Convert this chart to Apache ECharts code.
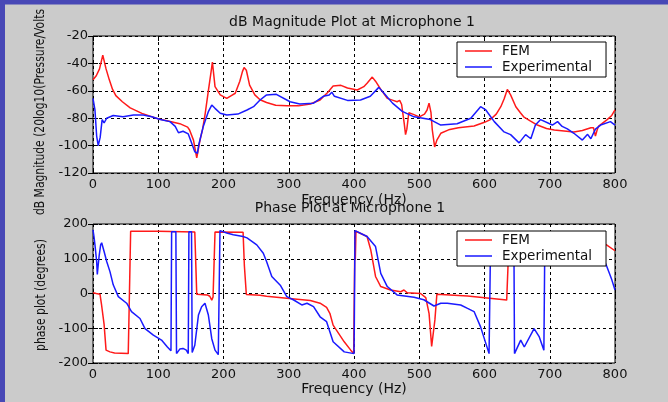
<!DOCTYPE html>
<html>
<head>
<meta charset="utf-8">
<script src="https://cdn.jsdelivr.net/npm/echarts@6/dist/echarts.min.js"></script>
<style>
  html, body { margin: 0; padding: 0; background: #cbcbcb; overflow: hidden; }
  #chart { width: 668px; height: 402px; }
</style>
</head>
<body>
<div id="chart"></div>
<script>
// ---- Magnitude response at microphone 1 (dB) ----
const femMagFreq = [0, 5, 10, 13, 15, 17, 20, 25, 30, 35, 45, 57, 75, 100, 115, 133, 145, 148, 154, 159, 164, 168, 172, 177, 181, 183, 185, 187, 195, 205, 212, 218, 225, 229, 231.5, 235, 240, 248, 256, 266, 280, 297, 315, 333, 348, 360, 368, 380, 390, 405, 415, 420, 428, 433, 441, 451, 460, 466, 470, 473, 477, 479, 481, 484, 490, 500, 508, 512, 515, 518, 520, 523.6, 527, 533, 545, 560, 584, 600, 609, 618, 625, 630, 635, 640, 648, 655, 660, 670, 681, 695, 707, 737, 750, 763, 767, 770, 773, 775, 780, 788, 795, 800];
const femMagDb = [-52, -49, -44, -38, -34, -38, -44, -52, -59, -63.5, -68, -72.5, -76.5, -80.5, -82, -84, -86.5, -88.6, -96, -109, -96, -88, -76.4, -59.4, -46, -39, -48, -57, -63, -65.5, -63.5, -61.8, -53, -46, -43, -45, -55.8, -63, -66.5, -68.5, -70.5, -71, -71, -69.6, -66.7, -61, -56.5, -56, -58, -59.4, -57, -54.5, -50, -53, -59, -65.5, -67, -68, -67, -70, -84, -92, -88, -76, -77, -79, -77, -74, -69, -76, -88.6, -101, -96, -91, -88.5, -87, -85.7, -83, -81, -77, -71.6, -66, -59, -63, -71.6, -76, -79, -82, -85, -87.5, -88.6, -90, -89, -87, -87, -93, -88, -85.7, -84, -81, -78, -74];

const expMagFreq = [0, 3, 5.6, 8, 11, 14, 17, 21, 31, 46, 62, 77, 90, 103, 118, 126, 131, 138, 146, 151, 156, 160, 162, 169, 177, 182, 187, 195, 205, 222, 236, 246, 256, 266, 281, 302, 317, 338, 353, 362, 366, 370, 390, 410, 425, 438, 446, 459, 474, 492, 517, 533, 558, 579, 594, 602, 615, 630, 640, 653, 663, 671, 678, 686, 704, 712, 719, 727, 737, 750, 758, 763, 770, 778, 793, 800];
const expMagDb = [-65.5, -74, -93, -100, -94, -81, -83.5, -80, -78, -79, -77.7, -77.7, -79, -81, -82.5, -86, -90.6, -89.5, -91.5, -98, -104.5, -105.6, -99.6, -86, -75, -70.4, -72.8, -76.4, -77.7, -77, -74, -71.6, -66.7, -63, -62.6, -68, -69.6, -69, -64, -63, -61, -64, -67, -66.7, -64, -57.5, -61.8, -69, -75, -79, -81, -85, -84, -80, -71.6, -74, -82.5, -90, -92, -98, -92, -95, -85, -81, -85, -82.5, -86, -87.8, -91, -96, -91.8, -95, -88, -85, -82.5, -85];

// ---- Phase response at microphone 1 (degrees) ----
const femPhaseFreq = [0, 5, 10.7, 13, 17, 20, 26, 33, 54, 55, 57.7, 60, 100, 156, 159, 175, 179, 182, 184, 187, 230, 232, 235, 256, 266, 297, 333, 348, 358, 363, 368, 385, 395, 399.5, 400, 401.5, 402, 403, 420, 425.6, 433, 441, 456, 471.6, 476.6, 481.6, 502, 510, 515, 519, 521.6, 524, 527, 574, 634, 636, 638, 660, 700, 750, 787, 800];
const femPhaseDeg = [2, 0, -2, -31, -89, -163, -168, -171, -173, -81, 179, 180, 179, 177, -2.5, -4, -8, -19, -10, 177, 176, 80, -3, -5, -8, -14, -20, -28, -40, -57, -91, -139, -163, -173, -86, 179, 97, 179, 164, 126, 49, 20, 10, 5, 10, 2, 0, -12, -57, -152, -152, -76, -2, -7, -19, 77, 175, 170, 162, 152, 140, 123];

const expPhaseFreq = [0, 1.5, 3, 5.6, 6.6, 8, 9.5, 11.7, 13.3, 17, 21, 26, 31, 38.8, 51.6, 59, 72, 79.7, 92.5, 105, 114, 119.5, 120.5, 127, 128, 133, 138, 143, 146, 147, 151, 152, 154, 156, 161.6, 166.5, 171.6, 176.8, 182, 187, 192, 194, 194.6, 205, 215, 230, 236, 251, 261, 266, 274, 287, 297, 307, 320, 328, 338, 348, 358, 368, 385, 400, 400.5, 401.5, 420, 433, 441, 451, 466, 492, 507, 522.6, 533, 543, 563.5, 574, 584, 594, 607, 609.5, 625, 645, 646, 655.5, 661, 676, 684, 691, 692.6, 720, 760, 780, 787, 795, 800];
const expPhaseDeg = [183, 164, 140, 92, 55, 82, 110, 140, 146, 121, 92, 63, 25, -9, -28, -52, -72, -101, -120, -134, -154, -165, 178, 178, -173, -160, -158, -163, -173, 178, 178, -170, -165, -149, -62, -38, -28, -62, -130, -163, -176, -178, 181, 174, 169, 164, 160, 140, 116, 92, 49, 24, -9, -18, -33, -28, -38, -67, -81, -139, -168, -173, -86, 181, 164, 135, 58, 20, -4, -11, -18, -36, -28, -28, -33, -43, -52, -96, -173, 175, 172, 170, -173, -134, -154, -101, -125, -163, 175, 165, 130, 110, 80, 40, 10];

// Axis tick settings
const freqTicks = { min: 0, max: 800, interval: 100 };
const magTicks = { min: -120, max: -20, interval: 20 };
const phaseTicks = { min: -200, max: 200, interval: 100 };

const FONT = '"DejaVu Sans", sans-serif';
const INK = '#111';
const RED = '#ff1a1a';
const BLUE = '#1a1aff';

function pairs(xs, ys) {
  return xs.map((x, i) => [x, ys[i]]);
}

const gridLine = { show: true, lineStyle: { color: '#000', type: [3, 3], width: 1 } };
const tick = { show: true, inside: true, length: 5, lineStyle: { color: '#000', width: 1 } };

function xAxisFor(grid, main, nameGap) {
  return {
    gridIndex: grid, type: 'value', position: main ? 'bottom' : 'top',
    min: freqTicks.min, max: freqTicks.max, interval: freqTicks.interval,
    axisLine: { show: false },
    axisTick: tick,
    axisLabel: { show: main, margin: 5, color: INK, fontSize: 13, fontFamily: FONT, showMinLabel: true, showMaxLabel: true },
    splitLine: main ? gridLine : { show: false },
    name: main ? 'Frequency (Hz)' : '',
    nameLocation: 'middle', nameGap: nameGap,
    nameTextStyle: { color: INK, fontSize: 14, fontFamily: FONT }
  };
}

function yAxisFor(grid, main, t) {
  return {
    gridIndex: grid, type: 'value', position: main ? 'left' : 'right',
    min: t.min, max: t.max, interval: t.interval,
    axisLine: { show: false },
    axisTick: tick,
    axisLabel: { show: main, margin: 5, color: INK, fontSize: 13, fontFamily: FONT, showMinLabel: true, showMaxLabel: true },
    splitLine: main ? gridLine : { show: false }
  };
}

function lineSeries(name, grid, data, color) {
  return {
    type: 'line', name: name, xAxisIndex: grid * 2, yAxisIndex: grid * 2,
    data: data, showSymbol: false, symbol: 'none', clip: true,
    color: color,
    itemStyle: { color: color },
    lineStyle: { color: color, width: 1.5 },
    animation: false
  };
}

function legendAt(top) {
  return {
    orient: 'vertical', left: 457, top: top,
    data: ['FEM', 'Experimental'],
    icon: 'path://M0,0H27V1.4H0Z M31.98,0H32V1.4H31.98Z',
    itemWidth: 32, itemHeight: 1.4, itemGap: 0,
    itemStyle: { borderWidth: 0 },
    padding: [1, 14, 2, 8],
    backgroundColor: '#fff', borderColor: '#000', borderWidth: 1,
    textStyle: { color: INK, fontSize: 13.5, fontFamily: FONT, lineHeight: 16 },
    selectedMode: false
  };
}

const chart = echarts.init(document.getElementById('chart'), null, { renderer: 'canvas' });

chart.setOption({
  backgroundColor: '#cbcbcb',
  animation: false,
  title: [
    { text: 'dB Magnitude Plot at Microphone 1', left: 352, top: 15, textAlign: 'center', padding: 0,
      textStyle: { color: INK, fontSize: 14, fontWeight: 'normal', fontFamily: FONT } },
    { text: 'Phase Plot at Microphone 1', left: 350, top: 201, textAlign: 'center', padding: 0,
      textStyle: { color: INK, fontSize: 14, fontWeight: 'normal', fontFamily: FONT } }
  ],
  grid: [
    { left: 93, top: 36, width: 522, height: 137, show: true, backgroundColor: '#fff', borderColor: '#000', borderWidth: 1 },
    { left: 93, top: 224, width: 522, height: 139, show: true, backgroundColor: '#fff', borderColor: '#000', borderWidth: 1 }
  ],
  xAxis: [xAxisFor(0, true, 20), xAxisFor(0, false, 0), xAxisFor(1, true, 19), xAxisFor(1, false, 0)],
  yAxis: [yAxisFor(0, true, magTicks), yAxisFor(0, false, magTicks), yAxisFor(1, true, phaseTicks), yAxisFor(1, false, phaseTicks)],
  legend: [legendAt(42), legendAt(231)],
  series: [
    lineSeries('FEM', 0, pairs(femMagFreq, femMagDb), RED),
    lineSeries('Experimental', 0, pairs(expMagFreq, expMagDb), BLUE),
    lineSeries('FEM', 1, pairs(femPhaseFreq, femPhaseDeg), RED),
    lineSeries('Experimental', 1, pairs(expPhaseFreq, expPhaseDeg), BLUE)
  ],
  graphic: [
    // slide frame strips along the top and left edges
    { type: 'rect', z: 100, shape: { x: 0, y: 0, width: 668, height: 4.5 }, style: { fill: '#4848b6' } },
    { type: 'rect', z: 100, shape: { x: 0, y: 0, width: 5, height: 402 }, style: { fill: '#4848b6' } },
    // vertical axis titles
    { type: 'text', z: 50, x: 40, y: 112, rotation: Math.PI / 2, scaleX: 0.77,
      style: { text: 'dB Magnitude (20log10(Pressure/Volts', fill: INK, fontSize: 14, fontFamily: FONT,
               align: 'center', verticalAlign: 'middle', textAlign: 'center', textVerticalAlign: 'middle' } },
    { type: 'text', z: 50, x: 41, y: 295, rotation: Math.PI / 2, scaleX: 0.77,
      style: { text: 'phase plot (degrees)', fill: INK, fontSize: 14, fontFamily: FONT,
               align: 'center', verticalAlign: 'middle', textAlign: 'center', textVerticalAlign: 'middle' } }
  ]
});
</script>
</body>
</html>
